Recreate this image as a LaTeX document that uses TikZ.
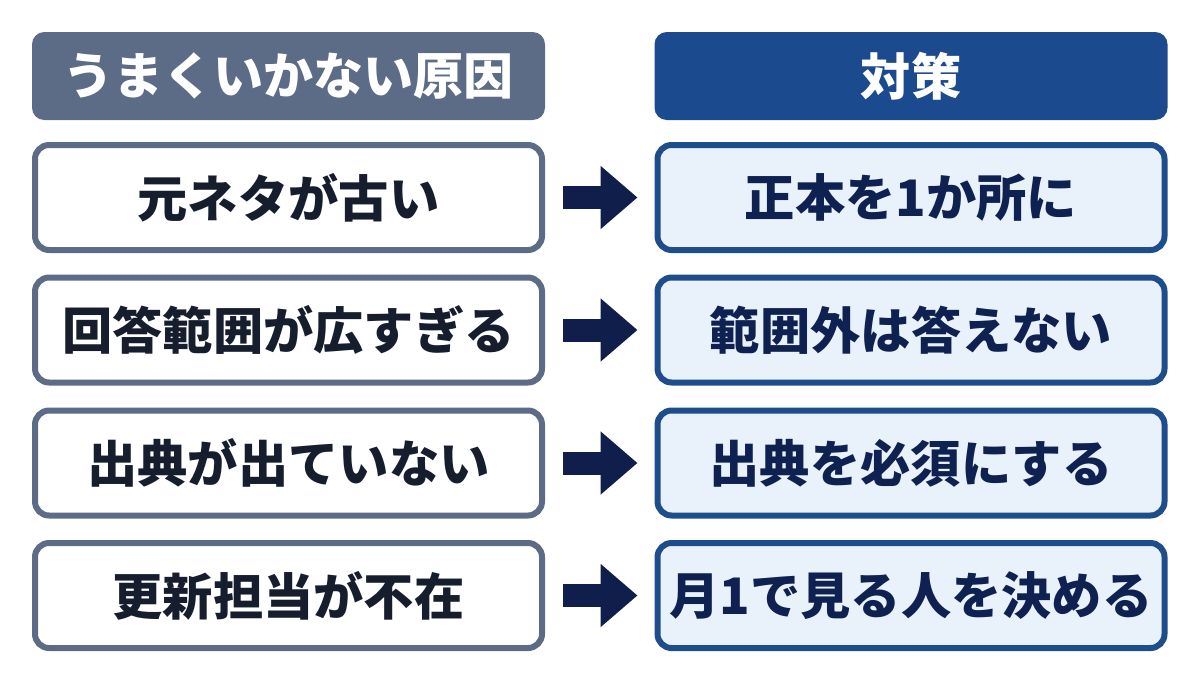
\documentclass[tikz,border=0pt]{standalone}
\usepackage{fontspec}
\newfontfamily\jpfont{Noto Sans CJK JP}
\usepackage{tikz}
\usetikzlibrary{arrows.meta, positioning}
\usepackage{xcolor}
\definecolor{slate}{HTML}{5C6B86}
\definecolor{ink}{HTML}{161E2E}
\definecolor{fixblue}{HTML}{1C4A8E}
\definecolor{fixline}{HTML}{1E4D8C}
\definecolor{fixfill}{HTML}{E9F1FB}
\definecolor{fixink}{HTML}{0E2150}
\definecolor{navy}{HTML}{101E4C}

\begin{document}
\begin{tikzpicture}[
      head/.style={rounded corners=7pt, minimum width=10.26cm,
                   minimum height=1.76cm, inner sep=0pt, text=white,
                   font=\jpfont\fontsize{28.5}{32}\selectfont\bfseries},
      cause/.style={draw=slate, fill=white, line width=0.12cm,
                    rounded corners=8pt, minimum width=10.14cm,
                    minimum height=2.1cm, inner sep=0pt, text=ink,
                    font=\jpfont\fontsize{28.6}{32}\selectfont\bfseries},
      remedy/.style={cause, draw=fixline, fill=fixfill, text=fixink},
      arr/.style={navy, line width=0.46cm, shorten <=0.36cm, shorten >=0.34cm,
                  -{Triangle[length=0.74cm, width=1.22cm]}}
    ]
      \useasboundingbox (0,0) rectangle (24,-13.5);

      % Headers
      \node[head, fill=slate] (hcause) at (5.77, -1.52) {うまくいかない原因};
      \node[head, fill=fixblue] (hfix) at (18.22, -1.52) {対策};

      % Causes
      \node[cause] (c1) at (5.77, -3.95) {元ネタが古い};
      \node[cause] (c2) at (5.77, -6.6) {回答範囲が広すぎる};
      \node[cause] (c3) at (5.77, -9.26) {出典が出ていない};
      \node[cause] (c4) at (5.77, -11.91) {更新担当が不在};

      % Remedies
      \node[remedy] (r1) at (18.22, -3.95) {正本を1か所に};
      \node[remedy] (r2) at (18.22, -6.6) {範囲外は答えない};
      \node[remedy] (r3) at (18.22, -9.26) {出典を必須にする};
      \node[remedy] (r4) at (18.22, -11.91) {月1で見る人を決める};

      % Arrows
      \draw[arr] (c1) -- (r1);
      \draw[arr] (c2) -- (r2);
      \draw[arr] (c3) -- (r3);
      \draw[arr] (c4) -- (r4);
    \end{tikzpicture}
\end{document}
